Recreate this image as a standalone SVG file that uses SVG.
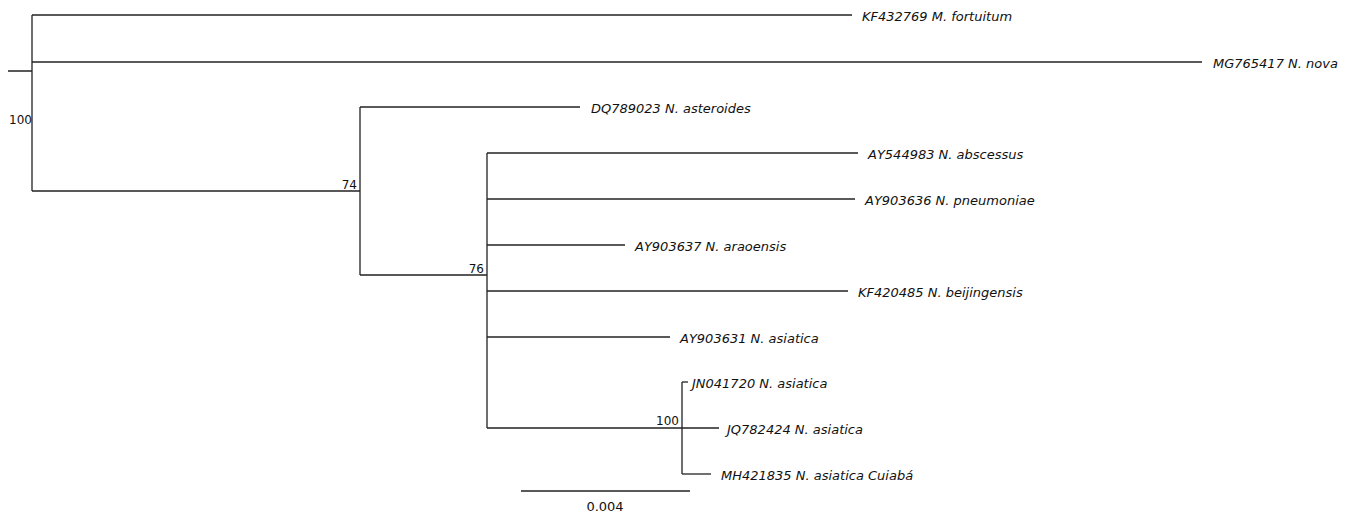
<svg xmlns="http://www.w3.org/2000/svg" width="1352" height="515" viewBox="0 0 1352 515">
<style>
.br{fill:none;stroke:#222;stroke-width:1.3}
.tx{font-family:"DejaVu Sans","Verdana",sans-serif;font-size:13px;font-style:italic;fill:#111}
.bs{font-family:"DejaVu Sans","Verdana",sans-serif;font-size:12px;fill:#111;text-anchor:end}
.sc{font-family:"DejaVu Sans","Verdana",sans-serif;font-size:13px;fill:#111;text-anchor:middle}
</style>
<rect width="1352" height="515" fill="#ffffff"/>
<g id="connectors">
<path class="br" d="M8,71H32M32,15V191"/>
<path class="br" d="M32,15H852"/>
<path class="br" d="M32,62H1202"/>
<path class="br" d="M32,191H360M360,107V275"/>
<path class="br" d="M360,107H580"/>
<path class="br" d="M360,275H487M487,153V428"/>
<path class="br" d="M487,153H858"/>
<path class="br" d="M487,199H855"/>
<path class="br" d="M487,245H625"/>
<path class="br" d="M487,291H848"/>
<path class="br" d="M487,337H670"/>
<path class="br" d="M487,428H682M682,382V474"/>
<path class="br" d="M682,382H688"/>
<path class="br" d="M682,428H719"/>
<path class="br" d="M682,474H711"/>
</g>
<g id="node-root"><text class="bs" x="32" y="124">100</text></g>
<g id="node-74"><text class="bs" x="357" y="189">74</text></g>
<g id="node-76"><text class="bs" x="484" y="273">76</text></g>
<g id="node-100"><text class="bs" x="679" y="425">100</text></g>
<g id="leaf-KF432769"><text class="tx" x="862" y="21">KF432769 M. fortuitum</text></g>
<g id="leaf-MG765417"><text class="tx" x="1213" y="68">MG765417 N. nova</text></g>
<g id="leaf-DQ789023"><text class="tx" x="591" y="113">DQ789023 N. asteroides</text></g>
<g id="leaf-AY544983"><text class="tx" x="868" y="159">AY544983 N. abscessus</text></g>
<g id="leaf-AY903636"><text class="tx" x="865" y="205">AY903636 N. pneumoniae</text></g>
<g id="leaf-AY903637"><text class="tx" x="635" y="251">AY903637 N. araoensis</text></g>
<g id="leaf-KF420485"><text class="tx" x="858" y="297">KF420485 N. beijingensis</text></g>
<g id="leaf-AY903631"><text class="tx" x="680" y="343">AY903631 N. asiatica</text></g>
<g id="leaf-JN041720"><text class="tx" x="692" y="388">JN041720 N. asiatica</text></g>
<g id="leaf-JQ782424"><text class="tx" x="727" y="434">JQ782424 N. asiatica</text></g>
<g id="leaf-MH421835"><text class="tx" x="721" y="480">MH421835 N. asiatica Cuiabá</text></g>
<g id="scale-bar">
<path class="br" d="M521,491H690"/>
<text class="sc" x="605" y="511">0.004</text>
</g>
</svg>
